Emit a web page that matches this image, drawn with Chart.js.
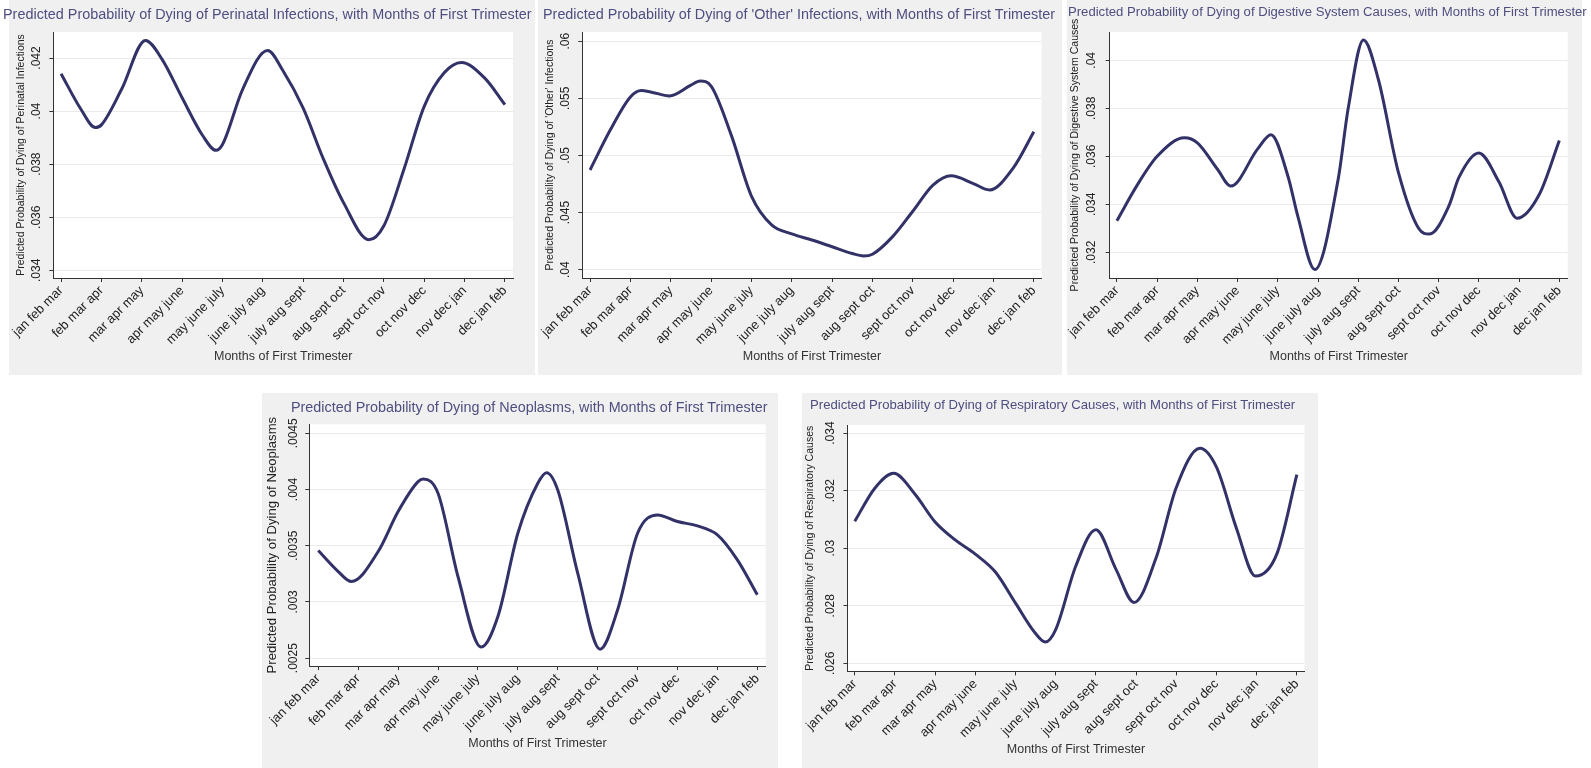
<!DOCTYPE html>
<html>
<head>
<meta charset="utf-8">
<script src="https://cdn.jsdelivr.net/npm/chart.js@4.4.0/dist/chart.umd.min.js"></script>
<style>
  body { margin: 0; background: #fff; width: 1591px; height: 768px; position: relative; overflow: hidden; }
  .panel { position: absolute; background: #f0f0f0; }
  .title { position: absolute; white-space: nowrap; color: #4e4e80; font-family: 'Liberation Sans', Arial, sans-serif; line-height: 1.2; }
  canvas { position: absolute; }
</style>
</head>
<body>
<script>
// categories on the x axis
const monthLabels = ['jan feb mar', 'feb mar apr', 'mar apr may', 'apr may june', 'may june july', 'june july aug',
  'july aug sept', 'aug sept oct', 'sept oct nov', 'oct nov dec', 'nov dec jan', 'dec jan feb'];

// curve: position on the month axis (0 = jan feb mar) and predicted probability
const perinatalX = [0, 0.5, 0.85, 1, 1.5, 2.09, 2.5, 3, 3.5, 3.84, 4, 4.5, 5.12, 5.5, 6, 6.5, 7, 7.63, 8, 8.5, 9, 9.5, 9.92, 10.5, 11];
const perinatalY = [0.04141, 0.04005, 0.03938, 0.03948, 0.04082, 0.04266, 0.04196, 0.0405, 0.0391, 0.03852, 0.03874, 0.04082, 0.04228, 0.04152, 0.04011, 0.0382, 0.03655, 0.03515, 0.03568, 0.03782, 0.04018, 0.04145, 0.04183, 0.04124, 0.04024];

const otherX = [0, 0.5, 1, 1.27, 1.5, 1.97, 2.5, 2.73, 3, 3.5, 4, 4.5, 5, 5.5, 6, 6.5, 6.78, 7, 7.5, 8, 8.5, 8.95, 9.5, 9.9, 10.5, 11];
const otherY = [0.04873, 0.05222, 0.05512, 0.05568, 0.05556, 0.05521, 0.05615, 0.05651, 0.05607, 0.05178, 0.04645, 0.04393, 0.04314, 0.0426, 0.04201, 0.04142, 0.04121, 0.04136, 0.0429, 0.04512, 0.0474, 0.04822, 0.04754, 0.04698, 0.04896, 0.05207];

const digestiveX = [0, 0.5, 1, 1.68, 2, 2.5, 2.83, 3.5, 3.83, 4.25, 4.5, 4.92, 5.5, 5.75, 6.13, 6.5, 7, 7.5, 7.77, 8.25, 8.5, 9, 9.5, 9.95, 10.5, 11];
const digestiveY = [0.03332, 0.03479, 0.036, 0.03677, 0.03656, 0.03546, 0.03476, 0.03631, 0.0369, 0.03518, 0.03349, 0.03128, 0.03504, 0.038, 0.04085, 0.0392, 0.03532, 0.033, 0.03276, 0.03392, 0.03511, 0.03614, 0.03493, 0.03342, 0.03441, 0.03666];

const neoplasmX = [0, 0.5, 0.83, 1.5, 2, 2.5, 2.63, 3, 3.5, 4.08, 4.5, 5, 5.5, 5.72, 6, 6.5, 7.06, 7.5, 8, 8.5, 9, 9.5, 10, 10.5, 11];
const neoplasmY = [0.003457, 0.00327, 0.003181, 0.003448, 0.003804, 0.00407, 0.004094, 0.003967, 0.003226, 0.002598, 0.00287, 0.003611, 0.004056, 0.00415, 0.003996, 0.003256, 0.00258, 0.00293, 0.003611, 0.003774, 0.003715, 0.003676, 0.003596, 0.003374, 0.003063];

const respiratoryX = [0, 0.5, 0.97, 1.5, 2, 2.5, 3, 3.5, 4, 4.5, 4.74, 5, 5.5, 6, 6.5, 6.95, 7.5, 8, 8.59, 9, 9.5, 9.97, 10.5, 11];
const respiratoryY = [0.030934, 0.032085, 0.032602, 0.031874, 0.030911, 0.030288, 0.029794, 0.029172, 0.028091, 0.027034, 0.02674, 0.027175, 0.029383, 0.03064, 0.029266, 0.028115, 0.029677, 0.032109, 0.033471, 0.032813, 0.030676, 0.029031, 0.029794, 0.032555];

// y axis ticks and their labels
const perinatalTicks = [0.034, 0.036, 0.038, 0.04, 0.042];
const perinatalTickLabels = ['.034', '.036', '.038', '.04', '.042'];
const otherTicks = [0.04, 0.045, 0.05, 0.055, 0.06];
const otherTickLabels = ['.04', '.045', '.05', '.055', '.06'];
const digestiveTicks = [0.032, 0.034, 0.036, 0.038, 0.04];
const digestiveTickLabels = ['.032', '.034', '.036', '.038', '.04'];
const neoplasmTicks = [0.0025, 0.003, 0.0035, 0.004, 0.0045];
const neoplasmTickLabels = ['.0025', '.003', '.0035', '.004', '.0045'];
const respiratoryTicks = [0.026, 0.028, 0.03, 0.032, 0.034];
const respiratoryTickLabels = ['.026', '.028', '.03', '.032', '.034'];

const FONT = "'Liberation Sans', Arial, sans-serif";
const LINE_COLOR = '#323268';

const panels = [
  {
    title: 'Predicted Probability of Dying of Perinatal Infections, with Months of First Trimester',
    yTitle: 'Predicted Probability of Dying of Perinatal Infections',
    xs: perinatalX, ys: perinatalY, ticks: perinatalTicks, tickLabels: perinatalTickLabels,
    yMin: 0.03371, yMax: 0.04298, xMin: -0.19, xMax: 11.2,
    box: { x: 9, y: 0, w: 526, h: 375 }, plot: { l: 53.4, t: 32, r: 513, b: 278 },
    titlePos: { l: 3, r: 532, cy: 15 }, yTitlePos: { cx: 21, len: 242 }, yTickOffset: 17, xTitleY: 356.7
  },
  {
    title: "Predicted Probability of Dying of 'Other' Infections, with Months of First Trimester",
    yTitle: "Predicted Probability of Dying of 'Other' Infections",
    xs: otherX, ys: otherY, ticks: otherTicks, tickLabels: otherTickLabels,
    yMin: 0.03928, yMax: 0.0608, xMin: -0.19, xMax: 11.19,
    box: { x: 538, y: 0, w: 524, h: 375 }, plot: { l: 582.4, t: 32, r: 1041.5, b: 278 },
    titlePos: { l: 543, r: 1056, cy: 15 }, yTitlePos: { cx: 550.3, len: 231 }, yTickOffset: 17, xTitleY: 356.7
  },
  {
    title: 'Predicted Probability of Dying of Digestive System Causes, with Months of First Trimester',
    yTitle: 'Predicted Probability of Dying of Digestive System Causes',
    xs: digestiveX, ys: digestiveY, ticks: digestiveTicks, tickLabels: digestiveTickLabels,
    yMin: 0.03093, yMax: 0.04118, xMin: -0.18, xMax: 11.21,
    box: { x: 1067, y: 0, w: 515, h: 375 }, plot: { l: 1109.7, t: 32, r: 1567.8, b: 278 },
    titlePos: { l: 1068, r: 1587, cy: 12 }, yTitlePos: { cx: 1075, len: 273 }, yTickOffset: 18.5, xTitleY: 356.7
  },
  {
    title: 'Predicted Probability of Dying of Neoplasms, with Months of First Trimester',
    yTitle: 'Predicted Probability of Dying of Neoplasms',
    xs: neoplasmX, ys: neoplasmY, ticks: neoplasmTicks, tickLabels: neoplasmTickLabels,
    yMin: 0.00243, yMax: 0.00458, xMin: -0.225, xMax: 11.21,
    box: { x: 262, y: 393, w: 516, h: 375 }, plot: { l: 309.3, t: 424.3, r: 765.7, b: 666 },
    titlePos: { l: 291, r: 768, cy: 408 }, yTitlePos: { cx: 272.3, len: 257 }, yTickOffset: 15.5, xTitleY: 744
  },
  {
    title: 'Predicted Probability of Dying of Respiratory Causes, with Months of First Trimester',
    yTitle: 'Predicted Probability of Dying of Respiratory Causes',
    xs: respiratoryX, ys: respiratoryY, ticks: respiratoryTicks, tickLabels: respiratoryTickLabels,
    yMin: 0.02572, yMax: 0.03428, xMin: -0.18, xMax: 11.19,
    box: { x: 802, y: 393, w: 516, h: 375 }, plot: { l: 847.5, t: 425, r: 1304.5, b: 671.4 },
    titlePos: { l: 810, r: 1296, cy: 405 }, yTitlePos: { cx: 810.3, len: 245 }, yTickOffset: 17, xTitleY: 750
  }
];

// font size that makes a text span the given width
const measureCtx = document.createElement('canvas').getContext('2d');
function fitSize(text, width) {
  measureCtx.font = "100px 'Liberation Sans'";
  return 100 * width / measureCtx.measureText(text).width;
}

// white plot region inside the gray panel
const whiteArea = {
  id: 'whiteArea',
  beforeDraw(chart) {
    const { ctx, chartArea: a } = chart;
    ctx.save();
    ctx.fillStyle = '#ffffff';
    ctx.fillRect(a.left, a.top, a.right - a.left, a.bottom - a.top);
    ctx.restore();
  }
};

function makePanel(p) {
  const bg = document.createElement('div');
  bg.className = 'panel';
  Object.assign(bg.style, { left: p.box.x + 'px', top: p.box.y + 'px', width: p.box.w + 'px', height: p.box.h + 'px' });
  document.body.appendChild(bg);

  const cx = p.box.x - 8, cy = p.box.y, cw = p.box.w + 16, ch = p.box.h;
  const cv = document.createElement('canvas');
  cv.width = cw; cv.height = ch;
  Object.assign(cv.style, { left: cx + 'px', top: cy + 'px', width: cw + 'px', height: ch + 'px' });
  document.body.appendChild(cv);

  const title = document.createElement('div');
  title.className = 'title';
  const tSize = fitSize(p.title, p.titlePos.r - p.titlePos.l);
  Object.assign(title.style, { left: p.titlePos.l + 'px', top: (p.titlePos.cy - tSize * 0.6) + 'px', fontSize: tSize + 'px' });
  title.textContent = p.title;
  document.body.appendChild(title);

  const yTitleSize = fitSize(p.yTitle, p.yTitlePos.len);
  measureCtx.font = "12px 'Liberation Sans'";
  const widest = Math.max(...p.tickLabels.map(t => measureCtx.measureText(t).width));

  new Chart(cv, {
    type: 'line',
    data: {
      datasets: [{
        data: p.xs.map((x, i) => ({ x: x, y: p.ys[i] })),
        borderColor: LINE_COLOR,
        borderWidth: 3,
        pointRadius: 0,
        cubicInterpolationMode: 'monotone',
        fill: false
      }]
    },
    options: {
      responsive: false,
      animation: false,
      layout: { padding: { left: 0, top: p.plot.t - cy, right: cx + cw - p.plot.r, bottom: 0 } },
      plugins: { legend: { display: false }, tooltip: { enabled: false } },
      scales: {
        x: {
          type: 'linear',
          min: p.xMin,
          max: p.xMax,
          afterBuildTicks: s => { s.ticks = monthLabels.map((_, i) => ({ value: i })); },
          afterFit: s => { s.height = cy + ch - p.plot.b; s.paddingLeft = 0; s.paddingRight = 0; },
          ticks: {
            autoSkip: false, minRotation: 45, maxRotation: 45, padding: 1,
            color: '#222', font: { family: FONT, size: 13 },
            callback: (v, i) => monthLabels[i]
          },
          grid: { drawOnChartArea: false, tickLength: 4, color: '#333' },
          border: { color: '#333', width: 1 },
          title: {
            display: true, text: 'Months of First Trimester', color: '#333',
            font: { family: FONT, size: 12.5 },
            padding: { top: 0, bottom: cy + ch - p.xTitleY - 7.5 }
          }
        },
        y: {
          min: p.yMin,
          max: p.yMax,
          afterBuildTicks: s => { s.ticks = p.ticks.map(v => ({ value: v })); },
          afterFit: s => { s.width = p.plot.l - cx; s.paddingTop = 0; s.paddingBottom = 0; },
          ticks: {
            minRotation: 90, maxRotation: 90, crossAlign: 'center',
            padding: p.yTickOffset - 4 - widest / 2,
            color: '#222', font: { family: FONT, size: 12 },
            callback: (v, i) => p.tickLabels[i]
          },
          grid: { color: '#ebebeb', tickColor: '#333', tickLength: 4 },
          border: { color: '#333', width: 1 },
          title: {
            display: true, text: p.yTitle, color: '#222',
            font: { family: FONT, size: yTitleSize },
            padding: { top: p.yTitlePos.cx - cx - yTitleSize * 0.6, bottom: 0 }
          }
        }
      }
    },
    plugins: [whiteArea]
  });
}

panels.forEach(makePanel);
</script>
</body>
</html>
